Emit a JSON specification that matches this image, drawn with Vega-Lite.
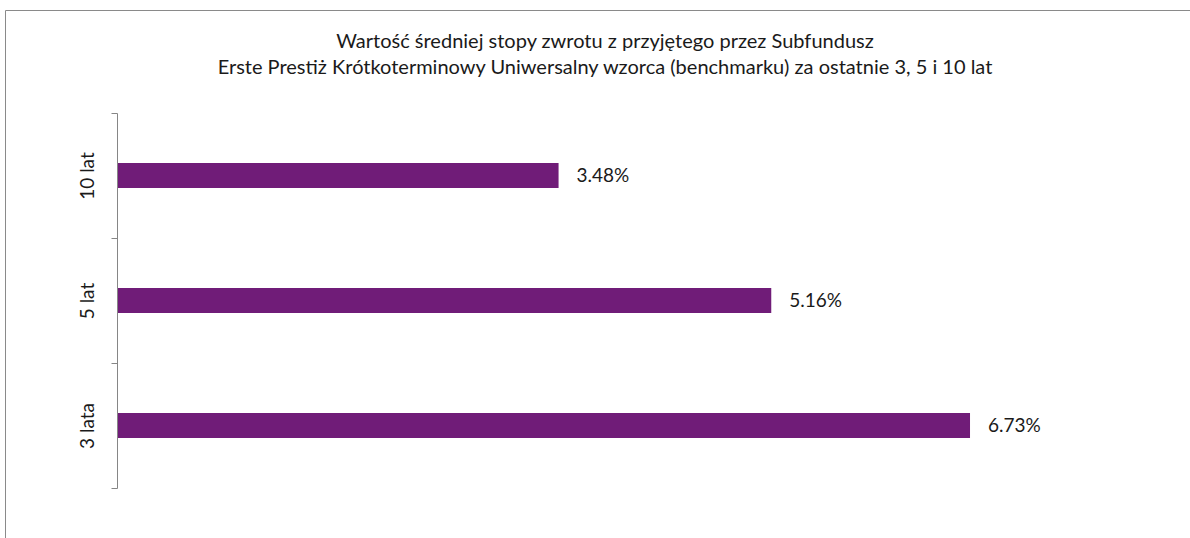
{
  "$schema": "https://vega.github.io/schema/vega-lite/v6.json",
  "width": 1200,
  "height": 540,
  "autosize": "none",
  "padding": {"left": 5, "top": 10, "right": 0, "bottom": 0},
  "background": "white",
  "config": {"view": {"stroke": "#8a8a8a", "strokeWidth": 1}, "font": "Lato"},
  "title": {
    "text": ["Wartość średniej stopy zwrotu z przyjętego przez Subfundusz", "Erste Prestiż Krótkoterminowy Uniwersalny wzorca (benchmarku) za ostatnie 3, 5 i 10 lat"],
    "fontSize": 20,
    "fontWeight": "normal",
    "lineHeight": 26,
    "color": "#1a1a1a",
    "anchor": "middle",
    "offset": -68,
    "dx": 0
  },
  "data": {
    "values": [
      {"okres": "10 lat", "wartosc": 3.48, "etykieta": "3.48%"},
      {"okres": "5 lat", "wartosc": 5.16, "etykieta": "5.16%"},
      {"okres": "3 lata", "wartosc": 6.73, "etykieta": "6.73%"}
    ]
  },
  "encoding": {
    "y": {
      "field": "okres",
      "type": "nominal",
      "sort": ["10 lat", "5 lat", "3 lata"],
      "scale": {"range": [103, 478], "paddingInner": 0, "paddingOuter": 0},
      "axis": {
        "title": null,
        "offset": -112,
        "tickBand": "extent",
        "domainColor": "#868686",
        "tickColor": "#868686",
        "tickSize": 6,
        "labelAngle": -90,
        "labelAlign": "center",
        "labelBaseline": "bottom",
        "labelPadding": 14,
        "labelFontSize": 19,
        "labelColor": "#1a1a1a",
        "grid": false
      }
    },
    "x": {
      "field": "wartosc",
      "type": "quantitative",
      "scale": {"domain": [0, 7], "range": [113, 999.2], "nice": false},
      "axis": null
    }
  },
  "layer": [
    {"mark": {"type": "bar", "color": "#701c78", "height": {"band": 0.2}}},
    {
      "mark": {"type": "text", "align": "left", "baseline": "middle", "dx": 18, "fontSize": 19, "color": "#1a1a1a"},
      "encoding": {"text": {"field": "etykieta"}}
    }
  ]
}
